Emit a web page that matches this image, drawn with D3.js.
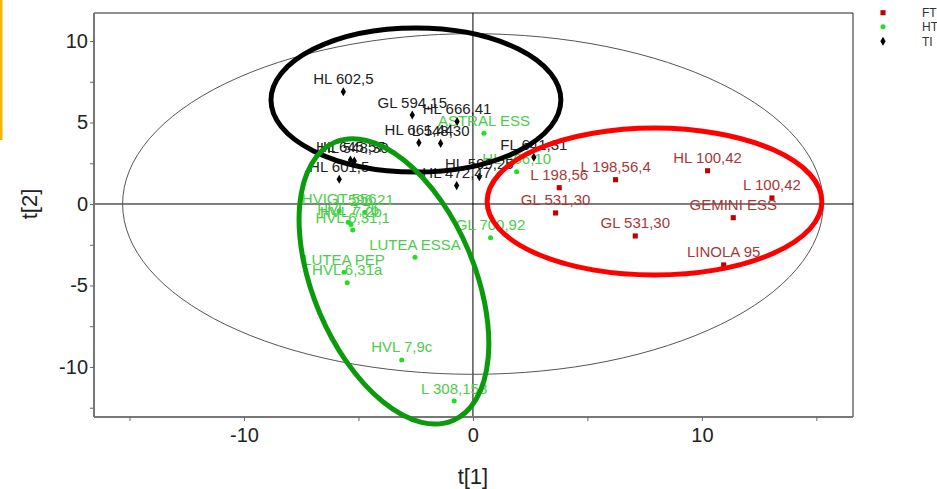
<!DOCTYPE html>
<html>
<head>
<meta charset="utf-8">
<script src="https://cdn.jsdelivr.net/npm/d3@7"></script>
<style>
  body { margin: 0; background: #fff; }
  svg { display: block; font-family: "Liberation Sans", Arial, sans-serif; }
</style>
</head>
<body>
<div id="container"></div>
<script>
// Score plot t[1] / t[2]
const ftLabels = ["HL 100,42", "L 100,42", "L 198,56,4", "L 198,56", "GL 531,30", "GEMINI ESS", "GL 531,30", "LINOLA 95"];
const ftX = [10.25, 13.06, 6.23, 3.77, 3.61, 11.37, 7.09, 10.95];
const ftY = [2.04, 0.37, 1.49, 1.0, -0.55, -0.84, -1.96, -3.74];

const htLabels = ["ASTRAL ESS", "HL 666,10", "GL 700,92", "HVIGT 556", "L 596,21", "HVL 7,7b", "HVL 7,2b", "HVL 6,31,1", "LUTEA ESSA", "LUTEA PEP", "HVL 6,31a", "HVL 7,9c", "L 308,158"];
const htX = [0.48, 1.91, 0.77, -5.84, -4.72, -5.45, -5.33, -5.25, -2.53, -5.63, -5.49, -3.11, -0.82];
const htY = [4.34, 1.98, -2.07, -0.43, -0.51, -1.12, -1.26, -1.60, -3.27, -4.19, -4.83, -9.57, -12.09];

const tiLabels = ["HL 602,5", "GL 594,15", "HL 666,41", "HL 661,44", "L 548,30", "HL 548,30", "HL 645,57", "HL 601,5", "HL 472,47", "HL 599,25", "FL 641,31"];
const tiX = [-5.66, -2.65, -0.69, -2.36, -1.41, -5.18, -5.35, -5.84, -0.71, 0.28, 2.66];
const tiY = [6.89, 5.46, 5.06, 3.76, 3.72, 2.64, 2.70, 1.52, 1.13, 1.67, 2.87];

const xTicks = [-10, 0, 10];
const yTicks = [10, 5, 0, -5, -10];

// hand drawn rings: center x, center y, radius x, radius y (data units), rotation (deg)
const ringNames = ["TI", "FT", "HT"];
const ringCx = [-2.49, 7.93, -3.45];
const ringCy = [6.38, 0.15, -4.75];
const ringRx = [6.33, 7.31, 6.6];
const ringRy = [4.42, 4.51, 4.95];
const ringRot = [0, 0, 67];

// Hotelling ellipse
const hotRx = 15.3;
const hotRy = 10.45;

const totalWidth = 937;
const totalHeight = 489;
const plot = { left: 94, right: 853, top: 13, bottom: 417 };

const xScale = d3.scaleLinear().domain([-16.55, 16.6]).range([plot.left, plot.right]);
const yScale = d3.scaleLinear().domain([11.72, -13.07]).range([plot.top, plot.bottom]);

const svg = d3.select("#container")
  .append("svg")
  .attr("width", totalWidth)
  .attr("height", totalHeight);

// odd yellow strip on the left edge of the screenshot
svg.append("rect")
  .attr("x", 0).attr("y", 0)
  .attr("width", 2.5).attr("height", 140)
  .attr("fill", "#f2b800");

// frame top / right
svg.append("path")
  .attr("d", `M${plot.left},${plot.top}H${plot.right}V${plot.bottom}`)
  .attr("fill", "none")
  .attr("stroke", "#222")
  .attr("stroke-width", 1);

// zero lines
svg.append("line")
  .attr("x1", plot.left).attr("x2", plot.right)
  .attr("y1", yScale(0)).attr("y2", yScale(0))
  .attr("stroke", "#000");
svg.append("line")
  .attr("x1", xScale(0)).attr("x2", xScale(0))
  .attr("y1", plot.top).attr("y2", plot.bottom)
  .attr("stroke", "#000");

// Hotelling T2 ellipse
svg.append("ellipse")
  .attr("cx", xScale(0))
  .attr("cy", yScale(0))
  .attr("rx", xScale(hotRx) - xScale(0))
  .attr("ry", yScale(0) - yScale(hotRy))
  .attr("fill", "none")
  .attr("stroke", "#555")
  .attr("stroke-width", 1);

// Axes
const xAxis = svg.append("g")
  .attr("transform", `translate(0,${plot.bottom})`)
  .call(d3.axisBottom(xScale).tickValues(d3.range(-15, 16, 5)).tickSize(4).tickFormat(d => xTicks.includes(d) ? d : ""));
xAxis.select(".domain").attr("stroke", "#777").attr("stroke-width", 2).attr("d", `M${plot.left},0H${plot.right}`);
xAxis.selectAll(".tick line").attr("stroke", "#666");
xAxis.selectAll(".tick text")
  .attr("y", 11)
  .attr("dy", "0.71em")
  .style("font-size", "20px")
  .attr("fill", "#222");

const yAxis = svg.append("g")
  .attr("transform", `translate(${plot.left},0)`)
  .call(d3.axisLeft(yScale).tickValues(d3.range(-12.5, 11, 2.5)).tickSize(4).tickFormat(d => yTicks.includes(d) ? d : ""));
yAxis.select(".domain").attr("stroke", "#777").attr("stroke-width", 2).attr("d", `M0,${plot.top}V${plot.bottom}`);
yAxis.selectAll(".tick line").attr("stroke", "#666");
yAxis.selectAll(".tick text")
  .attr("x", -6)
  .style("font-size", "20px")
  .attr("fill", "#222");

// Axis titles
svg.append("text")
  .attr("x", xScale(0))
  .attr("y", 484)
  .attr("text-anchor", "middle")
  .style("font-size", "22px")
  .attr("fill", "#222")
  .text("t[1]");

svg.append("text")
  .attr("transform", `translate(37,${yScale(0)}) rotate(-90)`)
  .attr("text-anchor", "middle")
  .style("font-size", "22px")
  .attr("fill", "#222")
  .text("t[2]");

// Points
const groups = [
  { name: "FT", labels: ftLabels, xs: ftX, ys: ftY, color: "#c00000", text: "#a83838", symbol: d3.symbolSquare, size: 26 },
  { name: "HT", labels: htLabels, xs: htX, ys: htY, color: "#22dd22", text: "#4ccc4c", symbol: d3.symbolCircle, size: 20 },
  { name: "TI", labels: tiLabels, xs: tiX, ys: tiY, color: "#000", text: "#222", symbol: d3.symbolDiamond, size: 24 }
];

groups.forEach(g => {
  const rows = g.labels.map((l, i) => ({ label: l, x: g.xs[i], y: g.ys[i] }));
  const layer = svg.append("g").attr("class", "group-" + g.name);

  layer.selectAll("path")
    .data(rows)
    .enter()
    .append("path")
    .attr("transform", d => `translate(${xScale(d.x)},${yScale(d.y)})`)
    .attr("d", d3.symbol().type(g.symbol).size(g.size))
    .attr("fill", g.color);

  layer.selectAll("text")
    .data(rows)
    .enter()
    .append("text")
    .attr("x", d => xScale(d.x))
    .attr("y", d => yScale(d.y) - 7.5)
    .attr("text-anchor", "middle")
    .style("font-size", "15px")
    .attr("fill", g.text)
    .text(d => d.label);
});

// Hand drawn rings on top
const ringColors = ["#000", "#ff0000", "#0b9a0b"];
ringNames.forEach((n, i) => {
  const cx = xScale(ringCx[i]);
  const cy = yScale(ringCy[i]);
  svg.append("ellipse")
    .attr("transform", `translate(${cx},${cy}) rotate(${ringRot[i]})`)
    .attr("rx", xScale(ringRx[i]) - xScale(0))
    .attr("ry", yScale(0) - yScale(ringRy[i]))
    .attr("fill", "none")
    .attr("stroke", ringColors[i])
    .attr("stroke-width", 5);
});

// Legend
const legend = svg.append("g").attr("id", "legend");
const legendRows = [12.7, 26.7, 41.3];
groups.forEach((g, i) => {
  legend.append("path")
    .attr("transform", `translate(883,${legendRows[i]})`)
    .attr("d", d3.symbol().type(g.symbol).size(g.size))
    .attr("fill", g.color);
  legend.append("text")
    .attr("x", 922)
    .attr("y", legendRows[i])
    .attr("dy", "0.35em")
    .style("font-size", "12px")
    .attr("fill", "#333")
    .text(g.name);
});
</script>
</body>
</html>
